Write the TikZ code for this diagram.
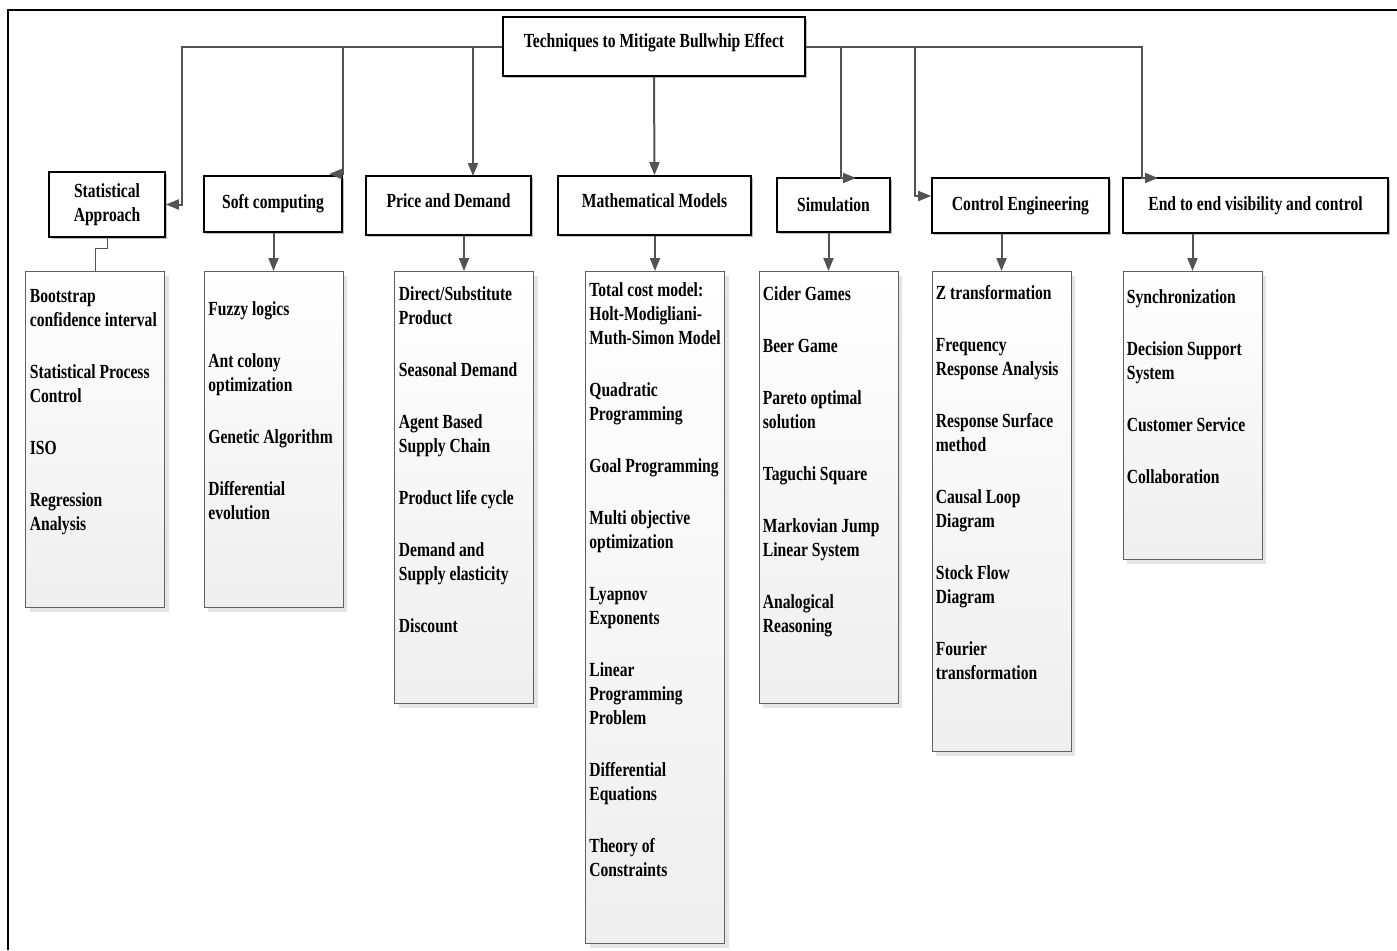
\documentclass[tikz,border=0pt]{standalone}
\usepackage{fontspec}
\setmainfont{Liberation Serif}[FakeStretch=0.78]
\usetikzlibrary{arrows.meta,shadows}

\tikzset{
  head/.style={draw=black, line width=0.8pt, fill=white, font=\bfseries,
    align=center, inner sep=2pt,
    drop shadow={shadow xshift=0.8pt, shadow yshift=-0.8pt, fill=gray!50, opacity=1}},
  listbox/.style={draw=gray!75!black, line width=0.5pt, top color=white,
    bottom color=gray!13, minimum width=69.5pt, anchor=north,
    drop shadow={shadow xshift=2pt, shadow yshift=-2pt, fill=gray!20, opacity=1}},
  items/.style={font=\bfseries, align=left, anchor=north west, inner sep=0pt},
  conn/.style={draw=gray!65!black, line width=1pt, -{Triangle[length=6.5pt, width=5pt]}},
  link/.style={draw=gray!65!black, line width=0.5pt}
}

\begin{document}
\begin{tikzpicture}[x=0.5pt, y=-0.5pt]
\useasboundingbox (0,0) rectangle (1397,950);
\draw[line width=1.3pt] (1397,10) -- (8,10) -- (8,950);

% main box and the seven groups
\node[head, minimum width=151pt, minimum height=29.5pt, text depth=6pt] (root) at (654,46.5)
	{Techniques to Mitigate Bullwhip Effect};
\node[head, minimum width=58pt, minimum height=32.5pt] (stat) at (107,204.5)
	{Statistical\\Approach};
\node[head, minimum width=69pt, minimum height=28pt] (soft) at (273,204)
	{Soft computing};
\node[head, minimum width=82.5pt, minimum height=29.5pt, text depth=5pt] (price) at (448.5,205.5)
	{Price and Demand};
\node[head, minimum width=96.5pt, minimum height=29.5pt, text depth=5pt] (math) at (654.5,205.5)
	{Mathematical Models};
\node[head, minimum width=56.5pt, minimum height=27pt] (sim) at (833.5,205)
	{Simulation};
\node[head, minimum width=88.5pt, minimum height=27.5pt] (ctrl) at (1020.5,205.5)
	{Control Engineering};
\node[head, minimum width=132.5pt, minimum height=27.5pt] (vis) at (1255.5,205.5)
	{End to end visibility and control};

% lists below the groups
\node[listbox, minimum height=168pt] (statL) at (95,271) {};
\node[listbox, minimum height=168pt] (softL) at (273.5,271) {};
\node[listbox, minimum height=216pt] (priceL) at (464,271) {};
\node[listbox, minimum height=336pt] (mathL) at (655,271) {};
\node[listbox, minimum height=216pt] (simL) at (828.5,271) {};
\node[listbox, minimum height=240pt] (ctrlL) at (1001.5,271) {};
\node[listbox, minimum height=144pt] (visL) at (1192.5,271) {};

\node[items] (statT) at (29.5,289)
	{Bootstrap\\confidence interval\\[14pt]Statistical Process\\Control\\[14pt]ISO\\[14pt]Regression\\Analysis};
\node[items] (softT) at (208,301)
	{Fuzzy logics\\[14pt]Ant colony\\optimization\\[14pt]Genetic Algorithm\\[14pt]Differential\\evolution};
\node[items] (priceT) at (398.5,286)
	{Direct/Substitute\\Product\\[14pt]Seasonal Demand\\[14pt]Agent Based\\Supply Chain\\[14pt]Product life cycle\\[14pt]Demand and\\Supply elasticity\\[14pt]Discount};
\node[items] (mathT) at (589,282)
	{Total cost model:\\Holt-Modigliani-\\Muth-Simon Model\\[14pt]Quadratic\\Programming\\[14pt]Goal Programming\\[14pt]Multi objective\\optimization\\[14pt]Lyapnov\\Exponents\\[14pt]Linear\\Programming\\Problem\\[14pt]Differential\\Equations\\[14pt]Theory of\\Constraints};
\node[items] (simT) at (762.5,286)
	{Cider Games\\[14pt]Beer Game\\[14pt]Pareto optimal\\solution\\[14pt]Taguchi Square\\[14pt]Markovian Jump\\Linear System\\[14pt]Analogical\\Reasoning};
\node[items] (ctrlT) at (935.5,285)
	{Z transformation\\[14pt]Frequency\\Response Analysis\\[14pt]Response Surface\\method\\[14pt]Causal Loop\\Diagram\\[14pt]Stock Flow\\Diagram\\[14pt]Fourier\\transformation};
\node[items] (visT) at (1126.5,289)
	{Synchronization\\[14pt]Decision Support\\System\\[14pt]Customer Service\\[14pt]Collaboration};

% bends of the branch lines
\coordinate (statbend) at (182,204.5);
\coordinate (softbend) at (343,174);
\coordinate (softtip) at (329,174);
\coordinate (pricetop) at (473,176);
\coordinate (simbend) at (841,178);
\coordinate (simtip) at (856,178);
\coordinate (ctrlbend) at (915,196);
\coordinate (visbend) at (1142,178);
\coordinate (vistip) at (1158,178);

\draw[conn] (root.west) -| (statbend) -- (stat.east);
\draw[conn] (root.west) -| (softbend) -- (softtip);
\draw[conn] (root.west) -| (pricetop);
\draw[conn] (root.south) -- (math.north);
\draw[conn] (root.east) -| (simbend) -- (simtip);
\draw[conn] (root.east) -| (ctrlbend) -- (ctrl.west |- ctrlbend);
\draw[conn] (root.east) -| (visbend) -- (vistip);

\draw[link] (stat.south) -- ++(0,11) -| (statL.north);
\draw[conn] (soft.south -| softL.north) -- (softL.north);
\draw[conn] (price.south -| priceL.north) -- (priceL.north);
\draw[conn] (math.south -| mathL.north) -- (mathL.north);
\draw[conn] (sim.south -| simL.north) -- (simL.north);
\draw[conn] (ctrl.south -| ctrlL.north) -- (ctrlL.north);
\draw[conn] (vis.south -| visL.north) -- (visL.north);
\end{tikzpicture}
\end{document}
